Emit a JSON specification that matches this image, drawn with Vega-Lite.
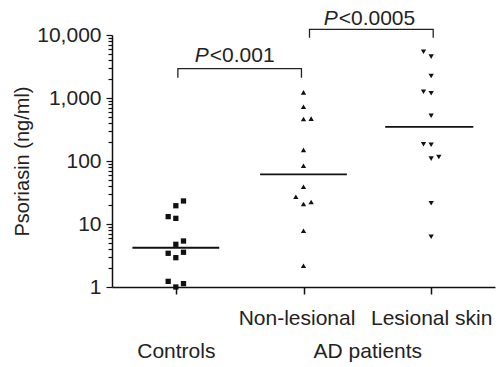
{
  "$schema": "https://vega.github.io/schema/vega-lite/v6.json",
  "width": 383,
  "height": 252,
  "autosize": "none",
  "padding": {"left": 112, "top": 35, "right": 5, "bottom": 80},
  "background": "white",
  "config": {
    "view": {"stroke": null},
    "font": "Liberation Sans",
    "axis": {"grid": false, "domainColor": "#111", "tickColor": "#111", "labelColor": "#222", "titleColor": "#222", "labelFont": "Liberation Sans", "titleFont": "Liberation Sans", "labelFontSize": 21, "titleFontSize": 20, "titleFontWeight": "normal"}
  },
  "datasets": {
    "points": [
      {"group": "Controls", "x": 1.06, "value": 23.2},
      {"group": "Controls", "x": 1.0, "value": 19.5},
      {"group": "Controls", "x": 0.94, "value": 13.1},
      {"group": "Controls", "x": 1.0, "value": 12.3},
      {"group": "Controls", "x": 1.06, "value": 5.37},
      {"group": "Controls", "x": 1.0, "value": 4.76},
      {"group": "Controls", "x": 0.94, "value": 3.43},
      {"group": "Controls", "x": 1.06, "value": 3.56},
      {"group": "Controls", "x": 1.0, "value": 2.92},
      {"group": "Controls", "x": 0.94, "value": 1.23},
      {"group": "Controls", "x": 1.0, "value": 1.0},
      {"group": "Controls", "x": 1.06, "value": 1.13},
      {"group": "Non-lesional", "x": 2.0, "value": 1230},
      {"group": "Non-lesional", "x": 2.0, "value": 728},
      {"group": "Non-lesional", "x": 2.0, "value": 464},
      {"group": "Non-lesional", "x": 2.06, "value": 470},
      {"group": "Non-lesional", "x": 2.0, "value": 150},
      {"group": "Non-lesional", "x": 2.0, "value": 84},
      {"group": "Non-lesional", "x": 2.0, "value": 39},
      {"group": "Non-lesional", "x": 1.94, "value": 27.1},
      {"group": "Non-lesional", "x": 2.0, "value": 20.8},
      {"group": "Non-lesional", "x": 2.06, "value": 22.4},
      {"group": "Non-lesional", "x": 2.0, "value": 7.83},
      {"group": "Non-lesional", "x": 2.0, "value": 2.18},
      {"group": "Lesional skin", "x": 2.94, "value": 5430},
      {"group": "Lesional skin", "x": 3.0, "value": 4530},
      {"group": "Lesional skin", "x": 3.0, "value": 2235},
      {"group": "Lesional skin", "x": 2.94, "value": 1259},
      {"group": "Lesional skin", "x": 3.0, "value": 1188},
      {"group": "Lesional skin", "x": 3.0, "value": 524},
      {"group": "Lesional skin", "x": 2.94, "value": 184},
      {"group": "Lesional skin", "x": 3.0, "value": 181},
      {"group": "Lesional skin", "x": 3.0, "value": 109},
      {"group": "Lesional skin", "x": 3.06, "value": 116},
      {"group": "Lesional skin", "x": 3.0, "value": 21.3},
      {"group": "Lesional skin", "x": 3.0, "value": 6.29}
    ],
    "medians": [
      {"group": "Controls", "lo": 0.66, "hi": 1.34, "median": 4.2},
      {"group": "Non-lesional", "lo": 1.66, "hi": 2.34, "median": 61.5},
      {"group": "Lesional skin", "lo": 2.64, "hi": 3.33, "median": 347}
    ],
    "brackets": [
      {"bracket": "a", "seq": 1, "x": 1.016, "y": 2100},
      {"bracket": "a", "seq": 2, "x": 1.016, "y": 2920},
      {"bracket": "a", "seq": 3, "x": 1.984, "y": 2920},
      {"bracket": "a", "seq": 4, "x": 1.984, "y": 2100},
      {"bracket": "b", "seq": 1, "x": 2.047, "y": 9060},
      {"bracket": "b", "seq": 2, "x": 2.047, "y": 12300},
      {"bracket": "b", "seq": 3, "x": 3.016, "y": 12300},
      {"bracket": "b", "seq": 4, "x": 3.016, "y": 9060}
    ],
    "pvalues": [
      {"x": 1.25, "y": 3725, "p": "P", "rest": "<0.001"},
      {"x": 2.26, "y": 14400, "p": "P", "rest": "<0.0005"}
    ]
  },
  "layer": [
    {
      "data": {"name": "medians"},
      "mark": {"type": "rule", "color": "#111", "strokeWidth": 1.8},
      "encoding": {
        "x": {"field": "lo", "type": "quantitative", "scale": {"domain": [0.5, 3.5], "nice": false, "zero": false},
          "axis": {
            "values": [1, 2, 2.5, 3],
            "title": null,
            "domainWidth": 1.5,
            "tickWidth": 1.5,
            "tickSize": 7,
            "tickOpacity": {"condition": {"test": "datum.value == 2.5", "value": 0}, "value": 1},
            "labelPadding": 13,
            "labelLineHeight": 33,
            "labelOffset": {"condition": {"test": "datum.value == 2", "value": -7}, "value": 0},
            "labelOverlap": false,
            "labelBound": false,
            "labelFlush": false,
            "labelExpr": "datum.value == 1 ? ['', 'Controls'] : datum.value == 2 ? ['Non-lesional', ''] : datum.value == 3 ? ['Lesional skin', ''] : ['', 'AD patients']"
          }},
        "x2": {"field": "hi"},
        "y": {"field": "median", "type": "quantitative", "scale": {"type": "log", "domain": [1, 10000], "nice": false},
          "axis": {
            "title": "Psoriasin (ng/ml)",
            "titlePadding": 4,
            "values": [1, 2, 3, 4, 5, 6, 7, 8, 9, 10, 20, 30, 40, 50, 60, 70, 80, 90, 100, 200, 300, 400, 500, 600, 700, 800, 900, 1000, 2000, 3000, 4000, 5000, 6000, 7000, 8000, 9000, 10000],
            "labelExpr": "(datum.value == 1 || datum.value == 10 || datum.value == 100 || datum.value == 1000 || datum.value == 10000) ? format(datum.value, ',') : ''",
            "labelOverlap": false,
            "labelPadding": 5,
            "domainWidth": 1.5,
            "tickWidth": 1.2,
            "tickSize": {"condition": {"test": "datum.value == 1 || datum.value == 10 || datum.value == 100 || datum.value == 1000 || datum.value == 10000", "value": 6}, "value": 4}
          }}
      }
    },
    {
      "data": {"name": "points"},
      "mark": {"type": "point", "filled": true, "opacity": 1, "color": "#111"},
      "encoding": {
        "x": {"field": "x", "type": "quantitative"},
        "y": {"field": "value", "type": "quantitative"},
        "shape": {"field": "group", "type": "nominal", "scale": {"domain": ["Controls", "Non-lesional", "Lesional skin"], "range": ["square", "triangle-up", "triangle-down"]}, "legend": null},
        "size": {"value": 28}
      }
    },
    {
      "data": {"name": "brackets"},
      "mark": {"type": "line", "color": "#222", "strokeWidth": 1.3, "clip": false},
      "encoding": {
        "x": {"field": "x", "type": "quantitative"},
        "y": {"field": "y", "type": "quantitative"},
        "detail": {"field": "bracket"},
        "order": {"field": "seq"}
      }
    },
    {
      "data": {"name": "pvalues"},
      "mark": {"type": "text", "align": "right", "baseline": "alphabetic", "fontSize": 21, "fontStyle": "italic", "color": "#222", "dx": 1},
      "encoding": {
        "x": {"field": "x", "type": "quantitative"},
        "y": {"field": "y", "type": "quantitative"},
        "text": {"field": "p"}
      }
    },
    {
      "data": {"name": "pvalues"},
      "mark": {"type": "text", "align": "left", "baseline": "alphabetic", "fontSize": 21, "color": "#222", "dx": 2},
      "encoding": {
        "x": {"field": "x", "type": "quantitative"},
        "y": {"field": "y", "type": "quantitative"},
        "text": {"field": "rest"}
      }
    }
  ]
}
